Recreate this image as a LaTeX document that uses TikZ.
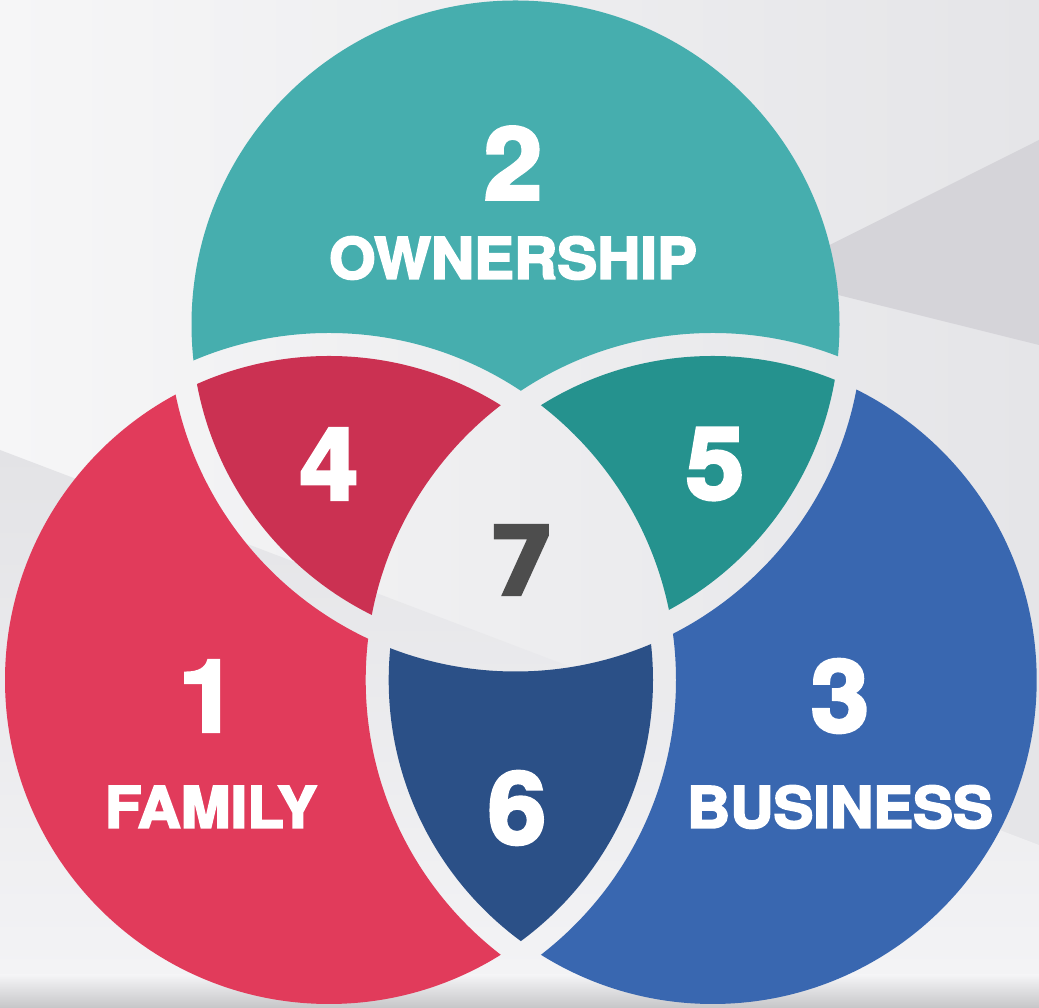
\documentclass[tikz,border=0pt]{standalone}
\usepackage{fontspec}
\newfontfamily\heavy{TeX Gyre Heros}[BoldFeatures={FakeBold=3.4},FakeStretch=1.05]
\newfontfamily\heavyseven{DejaVu Sans}[BoldFeatures={FakeBold=2.4}]

% palette
\definecolor{famcol}{HTML}{E13B5B}
\definecolor{owncol}{HTML}{46AEAE}
\definecolor{buscol}{HTML}{3967B0}
\definecolor{famown}{HTML}{CB3152}
\definecolor{ownbus}{HTML}{25928E}
\definecolor{fambus}{HTML}{2B5087}
\definecolor{centretext}{HTML}{4D4D4D}
\definecolor{bgleft}{HTML}{F6F6F7}
\definecolor{bgright}{HTML}{E5E5E8}
\definecolor{bgwedge}{HTML}{D5D4D9}
\definecolor{lowtop}{HTML}{E3E3E6}
\definecolor{lowbottom}{HTML}{F4F4F6}
\definecolor{floorshadow}{HTML}{C6C6C8}

% clipping helpers: inside a disc, or outside the widened disc (the seam).
% The outer frame runs clockwise and the hole counter-clockwise, so the
% nonzero rule leaves the hole out.
\newcommand\insideof[1]{\clip (#1) circle[radius=324];}
\newcommand\outsideof[1]{\clip (-20,-20) -- (-20,1030) -- (1060,1030) -- (1060,-20) -- cycle
  (#1) ++(347,0) arc[start angle=0,end angle=360,radius=347];}

\tikzset{
  numlabel/.style={font=\heavy\bfseries\fontsize{100}{100}\selectfont, text=white, inner sep=0pt},
  centrelabel/.style={font=\heavyseven\bfseries\fontsize{96}{96}\selectfont, text=centretext, inner sep=0pt},
  namelabel/.style={font=\heavy\bfseries\fontsize{57}{57}\selectfont, text=white, inner sep=0pt},
  regionfill/.style={fill=#1}
}

\begin{document}
\begin{tikzpicture}[x=1pt,y=1pt]
\useasboundingbox (0,0) rectangle (1039,1008);

% background
\shade[left color=bgleft, right color=bgright] (0,0) rectangle (1039,1008);
\fill[bgwedge] (766,731) -- (1039,868) -- (1039,663) -- cycle;
\shade[top color=lowtop, bottom color=lowbottom] (0,558) -- (1039,163) -- (1039,0) -- (0,0) -- cycle;
\shade[top color=lowbottom, bottom color=floorshadow] (0,0) rectangle (1039,33);

% circle centres
\coordinate (F) at (329,328);
\coordinate (B) at (712.7,328);
\coordinate (O) at (515.5,683.5);

% 1: family only
\begin{scope}\insideof{F}\outsideof{O}\outsideof{B}
  \fill[regionfill=famcol] (-20,-20) rectangle (1060,1030);\end{scope}
% 2: ownership only
\begin{scope}\insideof{O}\outsideof{F}\outsideof{B}
  \fill[regionfill=owncol] (-20,-20) rectangle (1060,1030);\end{scope}
% 3: business only
\begin{scope}\insideof{B}\outsideof{F}\outsideof{O}
  \fill[regionfill=buscol] (-20,-20) rectangle (1060,1030);\end{scope}
% 4: family and ownership
\begin{scope}\insideof{F}\insideof{O}\outsideof{B}
  \fill[regionfill=famown] (-20,-20) rectangle (1060,1030);\end{scope}
% 5: ownership and business
\begin{scope}\insideof{O}\insideof{B}\outsideof{F}
  \fill[regionfill=ownbus] (-20,-20) rectangle (1060,1030);\end{scope}
% 6: family and business
\begin{scope}\insideof{F}\insideof{B}\outsideof{O}
  \fill[regionfill=fambus] (-20,-20) rectangle (1060,1030);\end{scope}

% labels
\node[numlabel] (n2) at (513,845) {2};
\node[namelabel] (own) at (513,750) {OWNERSHIP};
\node[numlabel] (n4) at (329,544) {4};
\node[numlabel] (n5) at (715,544) {5};
\node[centrelabel] (n7) at (522,448) {7};
\node[numlabel] (n1) at (208,312) {1};
\node[namelabel] (fam) at (211,201) {FAMILY};
\node[numlabel] (n6) at (517,200) {6};
\node[numlabel] (n3) at (840,312) {3};
\node[namelabel] (bus) at (840,201) {BUSINESS};
\end{tikzpicture}
\end{document}
